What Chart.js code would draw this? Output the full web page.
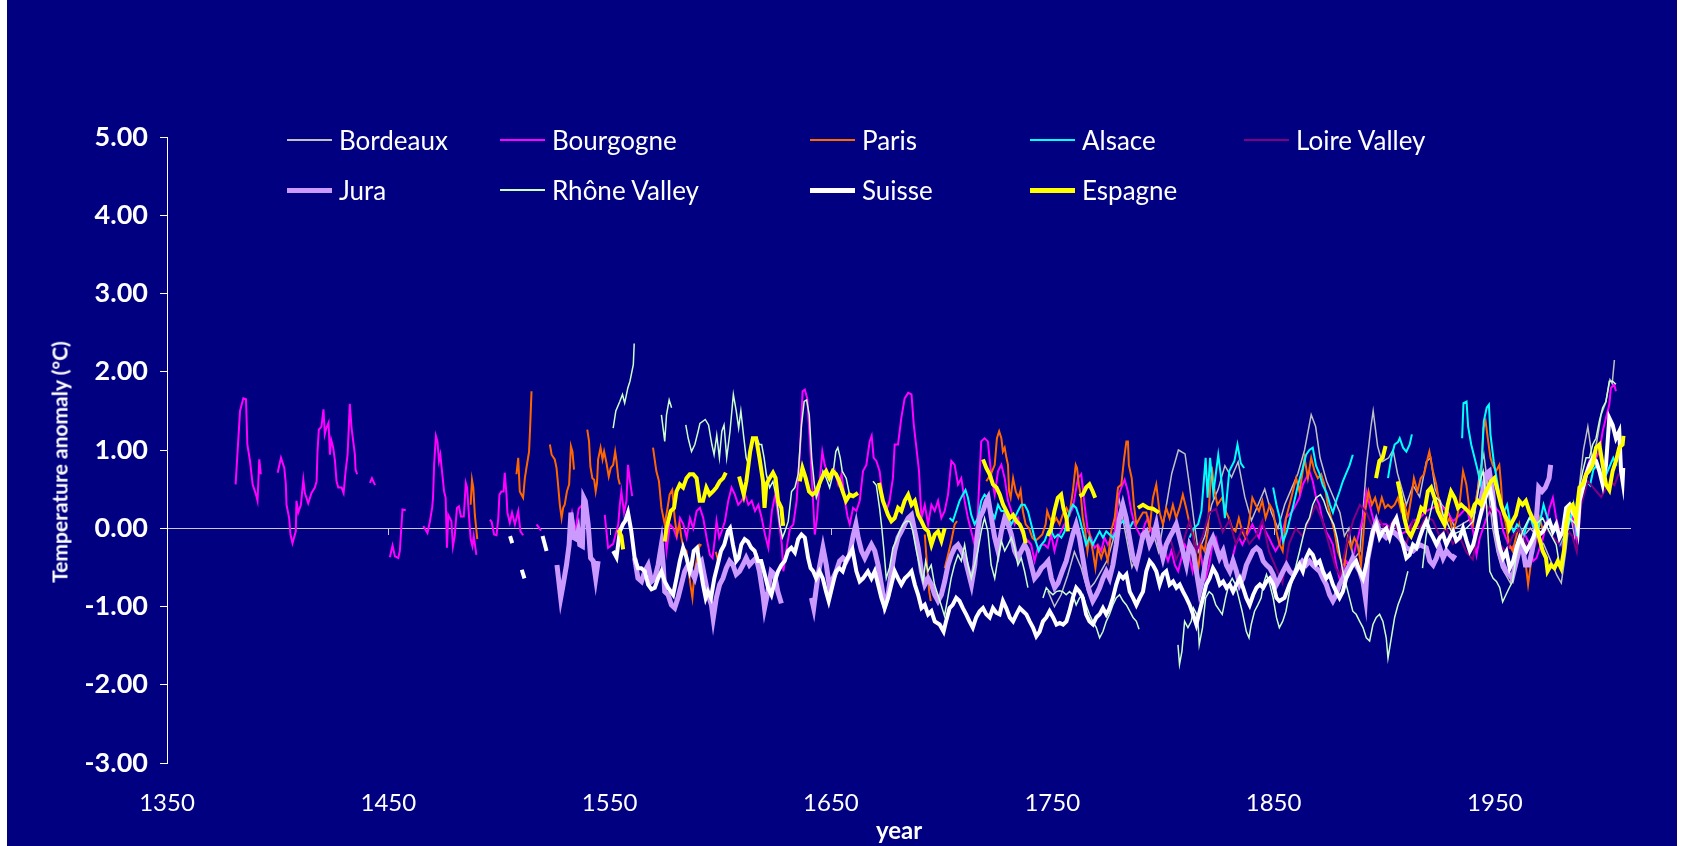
<!DOCTYPE html>
<html>
<head>
<meta charset="utf-8">
<script src="https://cdn.jsdelivr.net/npm/chart.js@4.4.1/dist/chart.umd.min.js"></script>
<style>
  body { margin: 0; background: #ffffff; }
  #wrap { position: relative; width: 1682px; height: 846px; background: #000080; overflow: hidden; font-family: Lato, "Open Sans", sans-serif; color: #fff; }
  #chart { position: absolute; left: 0; top: 0; }
  .edge { position: absolute; top: 0; height: 846px; background: #ffffff; }
  .lg-line { position: absolute; }
  .lg-text { position: absolute; font-size: 26px; line-height: 30px; white-space: nowrap; }
  #ytitle { position: absolute; left: 59px; top: 462px; transform: translate(-50%, -50%) rotate(-90deg); font-weight: bold; font-size: 21px; white-space: nowrap; }
</style>
</head>
<body>
<div id="wrap">
  <canvas id="chart" width="1682" height="846"></canvas>
  <div id="ytitle">Temperature anomaly (°C)</div>
  <div id="legend"></div>
  <div class="edge" style="left:0;width:7px"></div>
  <div class="edge" style="right:0;width:5px"></div>
</div>
<script>
// tick positions on the year axis
const tickYears = [1350, 1450, 1550, 1650, 1750, 1850, 1950];

// series: [year, anomaly], a null anomaly breaks the line
const bordeaux = [
  [1748,-0.8],[1751,-1.0],[1754,-0.85],[1757,-0.6],[1760,-0.3],[1763,-0.5],[1766,-0.8],[1769,-0.7],[1772,-0.55],
  [1775,-0.4],[1778,-0.1],[1780,0.4],[1782,0.1],[1784,-0.2],[1786,-0.5],[1789,-0.3],[1792,-0.1],[1795,0.0],
  [1798,-0.3],[1801,0.2],[1804,0.7],[1807,1.0],[1810,0.95],[1812,0.55],[1814,0.1],[1816,-0.3],[1819,-0.1],
  [1822,0.3],[1825,0.5],[1828,0.8],[1831,0.65],[1834,0.85],[1837,0.4],[1840,0.1],[1843,0.3],[1846,0.5],
  [1849,0.2],[1852,0.0],[1855,0.3],[1858,0.5],[1861,0.7],[1864,1.0],[1867,1.45],[1869,1.3],[1871,0.9],
  [1874,0.6],[1877,0.4],[1880,0.2],[1882,-0.1],[1884,0.0],[1886,-0.4],[1889,-0.3],[1892,0.8],[1894,1.3],
  [1895,1.5],[1897,1.05],[1899,0.85],[1902,0.9],[1904,1.0],[1906,0.7],[1908,0.5],[1910,0.3],[1913,0.55],
  [1916,0.4],[1919,0.85],[1921,0.9],[1923,0.5],[1926,0.3],[1929,0.2],[1932,0.0],[1935,0.05],[1938,0.1],
  [1941,0.2],[1943,0.7],[1945,0.95],[1947,0.5],[1949,0.0],[1951,-0.3],[1953,-0.5],[1955,-0.6],[1957,-0.7],
  [1960,-0.3],[1963,-0.1],[1966,0.0],[1969,-0.1],[1972,-0.2],[1975,-0.4],[1978,-0.6],[1980,-0.7],[1982,-0.3],
  [1984,0.2],[1986,-0.1],[1988,0.5],[1990,1.0],[1992,1.3],[1994,0.9],[1996,1.1],[1998,1.45],[2000,1.6],
  [2002,1.9],[2003,1.85],[2004,2.15]
];

const bourgogne = [
  [1381,0.56],[1383,1.5],[1384.5,1.66],[1385.7,1.65],[1386.3,1.07],[1387.5,0.86],[1388.7,0.56],[1390.2,0.43],
  [1390.9,0.35],[1391.7,0.88],[1392.4,0.69],[1396,null],
  [1400,0.71],[1401.5,0.9],[1403,0.77],[1403.7,0.56],[1404,0.3],[1405.2,0.13],[1405.8,-0.08],[1406.7,-0.19],
  [1408.2,-0.04],[1408.5,0.35],[1409.3,0.2],[1410.5,0.3],[1411.6,0.62],[1412.3,0.45],[1413.8,0.32],[1415.3,0.45],
  [1416.8,0.52],[1417.6,0.6],[1418,0.98],[1418.6,1.26],[1419.8,1.3],[1420.7,1.52],[1421.3,1.2],[1422,1.28],
  [1423,1.35],[1423.6,0.94],[1424.2,1.13],[1425.1,1.03],[1425.9,0.86],[1426.6,0.6],[1427.4,0.52],[1428.9,0.52],
  [1429.8,0.45],[1430.7,0.73],[1431.6,0.94],[1432.6,1.59],[1433.4,1.28],[1434.9,0.94],[1435.2,0.75],[1435.9,0.69],[1438,null],
  [1441.7,0.58],[1442.6,0.64],[1444,0.55],[1447,null],
  [1450.7,-0.37],[1451.9,-0.22],[1453,-0.36],[1454.5,-0.38],[1455.2,-0.29],[1456.4,0.24],[1457.9,0.23],[1462,null],
  [1465.8,0.03],[1467.7,-0.06],[1468.8,0.09],[1469.8,0.26],[1470.2,0.39],[1470.7,0.81],[1471.5,1.18],[1472.2,1.11],
  [1472.9,0.86],[1473.5,0.94],[1474.4,0.69],[1475.2,0.47],[1475.9,0.39],[1476.5,-0.25],[1477.1,0.17],[1478.5,0.09],
  [1479.2,-0.23],[1480,-0.1],[1481,0.26],[1481.9,0.28],[1482.8,0.15],[1484.1,0.15],[1485,0.58],[1485.6,0.52],
  [1486.2,0.26],[1487.2,-0.14],[1488,-0.23],[1488.6,-0.1],[1489.8,-0.34],[1493,null],
  [1495.9,0.11],[1496.7,0.08],[1497.8,-0.08],[1498.9,-0.09],[1499.7,0.13],[1500.2,0.43],[1501.1,0.47],[1502.1,0.47],
  [1502.6,0.71],[1503.4,0.43],[1503.8,0.2],[1504.9,0.07],[1505.9,0.2],[1507.2,0.05],[1508.7,0.22],[1509.7,-0.04],
  [1510.9,-0.09],[1514,null],
  [1517,0.05],[1519,-0.03],[1525,null],
  [1532,0.05],[1533,0.2],[1534.5,-0.05],[1536,0.25],[1537.7,0.3],[1540,null],
  [1547.8,0.17],[1549.3,-0.25],[1551.6,-0.2],[1553.9,0.05],[1554.6,0.3],[1555.3,0.47],[1556.5,0.2],[1557.6,0.35],
  [1558.3,0.81],[1559.2,0.6],[1560.2,0.41],[1566,null],
  [1574.9,0.0],[1575.7,-0.29],[1577.2,0.05],[1578.8,0.0],[1580.3,-0.12],[1581.8,0.13],[1583.3,0.05],[1584.8,-0.12],
  [1586.3,0.13],[1587.8,0.0],[1589.3,0.22],[1590.8,0.26],[1592.3,0.13],[1593.8,-0.12],[1595.3,-0.34],[1596.5,-0.38],
  [1597.6,-0.12],[1598.3,0.09],[1599.5,-0.12],[1600.6,-0.04],[1602.1,0.09],[1603.6,0.35],[1605.1,0.52],[1606.6,0.43],
  [1608.1,0.3],[1609.6,0.35],[1611.2,0.43],[1612.7,0.3],[1614.2,0.35],[1615.7,0.22],[1617.2,0.3],[1618.7,0.13],
  [1620.2,-0.08],[1621.7,-0.25],[1623.3,0.22],[1624.8,0.43],[1626.3,0.13],[1627.8,-0.21],[1628.5,-0.55],[1630,-0.25],
  [1631.5,0.0],[1633,0.05],[1634.5,0.35],[1636,0.98],[1637.2,1.75],[1638.2,1.77],[1639.3,1.66],[1640.5,1.11],
  [1641.7,0.47],[1642.7,-0.08],[1643.7,0.13],[1644.9,0.6],[1646.1,0.98],[1647.2,0.81],[1648.7,0.69],[1650.2,0.64],
  [1651.8,0.73],[1653.3,0.56],[1654.8,0.69],[1656.3,0.35],[1657.5,0.15],[1658.5,0.05],[1660,0.26],[1661.5,0.22],
  [1663,0.35],[1664.5,0.73],[1666,0.81],[1667.5,1.11],[1668.4,1.18],[1669.3,0.9],[1670.5,0.86],[1672,0.73],
  [1673.5,0.35],[1675,0.22],[1676.5,0.35],[1678,0.64],[1678.8,1.07],[1680.3,1.07],[1681.8,1.41],[1683.3,1.66],
  [1684.9,1.73],[1686.4,1.71],[1687.4,1.33],[1688.6,1.03],[1689.8,0.73],[1690.9,0.13],[1692.4,0.3],[1693.9,0.05],
  [1695.4,0.3],[1696.9,0.22],[1698.4,0.35],[1699.9,0.13],[1701.4,0.22],[1702.9,0.43],[1704.4,0.86],[1705.9,0.81],
  [1707.4,0.56],[1708.9,0.64],[1710.4,0.35],[1711.9,0.13],[1713.4,-0.04],[1714.9,-0.21],[1716.4,0.22],[1717.9,1.11],
  [1719.4,1.15],[1720.9,1.11],[1722.4,0.69],[1724,0.43],[1725.5,0.73],[1727,0.81],[1728.5,0.64],[1730,0.35],
  [1731.5,0.22],[1733,0.05],[1734.5,0.13],[1736,-0.04],[1737.5,-0.12],[1739,-0.16],[1740.5,-0.21],[1742,-0.42],
  [1743.5,-0.25],[1745,-0.21],[1746.5,-0.21],[1748,-0.25],[1749.5,-0.08],[1751,-0.29],[1752.5,-0.12],[1754,-0.04],
  [1755.5,0.05],[1757,0.13],[1759.3,0.26],[1761.6,0.64],[1763.1,0.69],[1764.6,0.3],[1766.1,-0.04],[1767.6,-0.12],
  [1769.1,-0.25],[1770.6,-0.21],[1772.1,-0.29],[1773.6,-0.12],[1775.1,-0.21],[1776.7,-0.12],[1778.2,-0.04],[1779.7,0.39],
  [1781.2,0.52],[1782.7,0.62],[1784.2,0.47],[1785.7,0.22],[1787.2,0.05],[1788.8,-0.04],[1790.3,-0.12],[1791.8,0.05],
  [1793.3,0.13],[1794.8,-0.04],[1796.3,-0.12],[1797.8,-0.04],[1799.3,-0.21],[1800.8,-0.29],[1802.3,-0.42],[1803.8,-0.29],
  [1805.4,-0.47],[1806.9,-0.55],[1808.4,-0.38],[1809.9,-0.21],[1811.4,-0.29],[1812.4,-0.42],[1813.4,-0.55],[1814.9,-0.29],
  [1816.4,-0.21],[1817.9,-0.47],[1819.4,-0.64],[1820.9,-0.47],[1822.4,-0.21],[1823.9,-0.12],[1825.4,-0.29],[1826.9,-0.38],
  [1828.4,-0.47],[1829.9,-0.55],[1831.4,-0.38],[1832.9,-0.21],[1834.4,-0.12],[1835.9,-0.21],[1837.4,-0.12],[1838.9,-0.04],
  [1840.4,0.05],[1841.9,-0.04],[1843.4,-0.12],[1844.9,0.05],[1846.4,-0.04],[1847.9,-0.12],[1849.4,-0.21],[1850.9,-0.29],
  [1852.6,-0.21],[1855.6,0.13],[1858.6,0.22],[1861.7,0.39],[1863.2,0.56],[1864.7,0.64],[1866.2,0.73],[1867.7,0.6],
  [1869.2,0.39],[1870.7,0.3],[1872.2,0.09],[1873.7,-0.04],[1875.3,-0.12],[1876.8,-0.21],[1878.3,-0.47],[1879.8,-0.64],
  [1881.3,-0.55],[1882.8,-0.42],[1884.3,-0.47],[1885.8,-0.38],[1887.3,-0.21],[1888.8,-0.04],[1890.4,0.13],[1891.9,0.47],
  [1893.4,0.3],[1894.9,0.13],[1896.4,-0.04],[1897.9,0.05],[1900.9,0.05],[1904,-0.04],[1907,-0.08],[1910,-0.04],
  [1913,0.09],[1916,0.13],[1919,0.22],[1922,0.26],[1925.1,0.3],[1928.1,0.22],[1931.1,0.09],[1934.1,0.17],
  [1937.1,0.26],[1940.2,-0.04],[1941.7,-0.34],[1943.2,-0.12],[1946.2,0.13],[1949.2,0.3],[1952.2,0.2],[1953.8,-0.04],
  [1956.8,-0.25],[1959.8,-0.21],[1962.8,-0.04],[1965.8,-0.21],[1967.3,-0.42],[1968.8,-0.38],[1971.8,-0.12],[1974.7,0.26],
  [1976.2,0.39],[1977.7,0.13],[1979.2,-0.04],[1980.7,-0.25],[1982.2,0.13],[1983.7,0.22],[1985.2,0.13],[1986.7,-0.12],
  [1988.2,0.52],[1989.7,0.6],[1991.2,0.73],[1992.7,0.86],[1994.2,0.81],[1995.7,0.9],[1997.2,0.98],[1998.7,1.24],
  [2000.2,1.41],[2001.7,1.58],[2002.4,1.79],[2003.9,1.84],[2004.7,1.75]
];

const paris = [
  [1487.2,0.3],[1487.8,0.62],[1488.4,0.52],[1489.1,0.17],[1490.2,-0.14],[1495,null],
  [1507.9,0.69],[1508.7,0.9],[1509.4,0.47],[1510.9,0.39],[1511.7,0.64],[1512.4,0.77],[1513.6,0.98],[1514.2,1.37],[1514.7,1.75],[1518,null],
  [1523,1.07],[1523.8,0.94],[1525.2,0.88],[1526,0.77],[1526.7,0.56],[1527.5,0.3],[1528.3,0.13],[1529,0.26],
  [1529.7,0.3],[1530.7,0.47],[1531.7,0.56],[1532.5,1.05],[1533.2,0.98],[1533.9,0.75],[1536,null],
  [1539.9,1.26],[1540.7,1.11],[1541.3,0.79],[1542.2,0.64],[1543,0.62],[1543.7,0.47],[1544.3,0.58],[1544.8,0.88],
  [1545.9,1.03],[1546.8,0.88],[1547.5,0.98],[1548.6,0.83],[1549.6,0.66],[1550.5,0.77],[1551.6,0.81],[1552.5,0.98],
  [1553.1,0.86],[1553.9,0.64],[1554.6,0.56],[1560,null],
  [1569.6,1.03],[1571.1,0.73],[1572.3,0.6],[1573.4,0.26],[1574.9,0.05],[1576.4,0.3],[1577.1,0.43],[1578.3,0.49],
  [1579.4,0.13],[1580.4,-0.08],[1581.6,0.05],[1582.4,-0.12],[1583.4,-0.25],[1584.7,-0.29],[1585.4,-0.47],[1586.5,-0.72],
  [1587.4,-0.89],[1588.4,-0.55],[1589.5,-0.38],[1590.7,-0.21],[1591.5,-0.22],[1594,null],
  [1598,-0.3],[1599,-0.42],[1600,-0.3],[1603,null],
  [1692.4,-0.08],[1693.4,-0.47],[1694.4,-0.81],[1695.1,-0.93],[1698,null],
  [1701.4,-0.51],[1702.9,-0.34],[1704.4,-0.16],[1705.9,0.05],[1707,0.09],[1712,null],
  [1720.2,0.6],[1722.4,0.7],[1724,0.81],[1725,1.15],[1726,1.24],[1727,1.15],[1727.7,0.98],[1728.5,1.03],
  [1729.3,0.9],[1730,0.81],[1730.5,0.47],[1731.2,0.39],[1732.3,0.64],[1733.5,0.47],[1734.7,0.39],[1735.7,0.49],
  [1736.7,0.22],[1738,0.05],[1739.5,0.0],[1741,-0.12],[1742.4,-0.16],[1744,-0.12],[1745.5,-0.08],[1747,0.05],
  [1747.7,0.22],[1748.8,0.13],[1750.3,0.05],[1751.8,0.13],[1753.3,0.05],[1754.8,0.18],[1756.4,0.26],[1757.8,0.18],
  [1759.3,0.47],[1760.6,0.81],[1761.2,0.77],[1762,0.56],[1763,0.39],[1763.8,0.13],[1764.9,-0.04],[1765.9,-0.29],
  [1766.9,-0.08],[1768.3,-0.29],[1769.5,-0.51],[1770.6,-0.25],[1772.1,-0.38],[1773.6,-0.25],[1775.1,-0.42],[1776.6,-0.04],
  [1778.2,0.13],[1779.7,0.52],[1781.2,0.56],[1782.5,0.9],[1783.5,1.11],[1784.2,1.11],[1784.6,0.81],[1785.9,0.64],
  [1786.9,0.3],[1788,0.05],[1789.5,0.13],[1791,0.2],[1792.5,0.2],[1794,0.0],[1795.5,0.39],[1797,0.56],
  [1798.5,0.2],[1800,0.05],[1801.5,0.26],[1803,0.13],[1804.5,0.3],[1806,0.13],[1807.5,0.26],[1809,0.43],
  [1810.5,0.26],[1812.1,0.05],[1813.6,-0.04],[1815.1,-0.38],[1815.8,-0.55],[1817.3,-0.21],[1818.8,-0.29],[1820.3,-0.04],
  [1820.9,0.3],[1821.6,0.64],[1822.3,0.73],[1823.4,0.47],[1824.6,0.3],[1826.8,0.39],[1828.3,0.22],[1829.8,0.13],
  [1831.3,0.0],[1832.8,-0.04],[1834.3,0.13],[1835.8,-0.04],[1837.3,-0.12],[1838.8,0.05],[1840.4,0.39],[1841.9,0.3],
  [1843.4,0.22],[1844.9,0.35],[1846.4,0.13],[1848.3,0.3],[1849.8,0.22],[1851.3,-0.04],[1852.6,-0.2],[1854.1,-0.29],
  [1855.6,0.13],[1857.2,0.3],[1858.7,0.47],[1860.2,0.64],[1861.7,0.47],[1863.2,0.73],[1864,0.9],[1865.5,0.64],
  [1867,0.9],[1868.5,0.73],[1870,0.64],[1871.5,0.69],[1873,0.56],[1874.5,0.3],[1876,0.13],[1877.5,-0.04],
  [1879,-0.29],[1880.5,-0.42],[1882,-0.47],[1883.5,-0.12],[1885,-0.25],[1886.5,-0.12],[1888,-0.21],[1889.5,-0.47],
  [1891.4,0.22],[1892.9,0.47],[1894.4,0.3],[1895.9,0.39],[1897.4,0.22],[1898.9,0.39],[1900.4,0.26],[1901.7,0.3],
  [1903.2,0.26],[1904.7,0.3],[1906.2,0.39],[1907.7,0.22],[1909.2,0.3],[1910.7,0.13],[1912.2,0.39],[1913.4,0.64],
  [1915,0.47],[1916.5,0.64],[1918,0.69],[1919.7,0.9],[1920.4,0.98],[1922,0.73],[1923.5,0.56],[1925,0.3],
  [1926.5,0.13],[1928,0.05],[1929.5,0.13],[1931,-0.04],[1932.5,0.09],[1934,0.3],[1935.6,0.73],[1937.1,0.56],
  [1938.6,0.22],[1940.1,0.05],[1941.6,0.39],[1943.1,0.6],[1944,0.81],[1944.8,1.28],[1945.8,1.37],[1946.8,1.15],
  [1948,0.9],[1949,0.81],[1950.5,0.73],[1952,0.81],[1952.8,0.56],[1953.5,0.22],[1955,0.05],[1956.5,-0.21],
  [1958,-0.29],[1959.5,-0.12],[1961,0.05],[1962.5,-0.21],[1964,-0.47],[1965,-0.72],[1965.8,-0.55],[1967.3,-0.21],
  [1968.8,-0.04],[1970.3,0.13],[1971.8,-0.04]
];

const alsace = [
  [1703.6,0.13],[1705.1,0.09],[1706.6,0.22],[1708.1,0.35],[1709.6,0.43],[1710.8,0.49],[1711.9,0.39],[1713.4,0.17],
  [1714.9,0.05],[1716.4,0.13],[1717.9,0.35],[1719.4,0.43],[1720.9,0.39],[1722.4,0.22],[1724,0.13],[1725.5,0.3],
  [1727,0.22],[1728.5,0.22],[1730,0.13],[1731.5,0.05],[1733,0.13],[1734.5,0.22],[1736,0.3],[1737.5,0.3],
  [1739,0.22],[1740.5,0.05],[1742,-0.12],[1743.9,-0.29],[1745.1,-0.21],[1746.6,-0.16],[1748.1,-0.04],[1749.6,-0.04],
  [1751.1,-0.12],[1752.6,-0.08],[1754.1,-0.12],[1755.6,-0.04],[1757,0.13],[1758,0.22],[1759.3,0.3],[1760.8,0.26],
  [1762.3,0.13],[1763.8,-0.04],[1765.3,-0.21],[1766.8,-0.12],[1768.3,-0.21],[1769.9,-0.12],[1771.4,-0.04],[1772.9,-0.12],
  [1774.4,-0.04],[1775.9,-0.08],[1777.4,-0.12],[1778.9,-0.04],[1780.4,0.05],[1782,0.09],[1783.5,0.05],[1785,0.0],
  [1786.5,0.09],[1789,null],
  [1812,-0.12],[1814,0.0],[1815.9,0.05],[1817.4,0.22],[1819.3,0.9],[1820.2,0.39],[1821.3,0.9],[1822.8,0.45],
  [1825,0.94],[1826.5,0.6],[1828,0.13],[1830,0.73],[1832.3,0.86],[1833.7,1.07],[1835.2,0.83],[1836.7,0.77],[1838,null],
  [1849.8,0.52],[1851.3,0.3],[1852.8,0.13],[1854.3,-0.17],[1856,-0.04],[1857.5,0.13],[1859,0.3],[1861,0.55],
  [1863,0.75],[1864.7,0.94],[1866.2,1.0],[1867.7,1.03],[1869.2,0.8],[1870.7,0.7],[1872.2,0.55],[1874,0.45],
  [1875.5,0.3],[1876.8,0.2],[1878.3,0.35],[1879.8,0.47],[1881.3,0.6],[1882.8,0.7],[1884.3,0.8],[1885.8,0.94],[1887,null],
  [1901.7,0.64],[1903.2,0.9],[1904.7,1.07],[1906.2,1.1],[1907,1.15],[1908.5,1.03],[1910,0.98],[1911.5,1.07],[1912.5,1.2],[1914,null],
  [1935.2,1.15],[1935.8,1.6],[1937.2,1.62],[1937.9,1.3],[1939.3,1.07],[1940.8,0.9],[1942.3,0.73],[1943.6,0.56],
  [1944.5,1.1],[1945,1.37],[1946.3,1.54],[1947.3,1.58],[1948,1.2],[1949.5,0.85],[1951,0.6],[1952.5,0.35],
  [1954,0.2],[1955.5,0.3],[1957,0.05],[1958.5,-0.05],[1960,0.05],[1961.5,0.0],[1963,-0.1],[1964.5,0.05],
  [1966,0.15],[1967.5,0.0],[1969,-0.1],[1970.5,0.1],[1972,0.3],[1973.5,0.15],[1975,0.05],[1976.5,-0.05],
  [1978,0.0],[1979.5,-0.2],[1981,-0.1],[1982.5,0.0],[1984,0.1],[1985.5,0.3],[1987,-0.1],[1988.5,0.35],
  [1990,0.5],[1991.5,0.6],[1993,0.55],[1994.5,0.75],[1996,0.8],[1997.5,0.75],[1999,0.6],[2000.5,0.7],
  [2002,0.8],[2003.5,0.9],[2005,0.8]
];

const loire = [
  [1800,-0.3],[1803,-0.1],[1806,-0.4],[1809,-0.2],[1812,0.1],[1815,-0.3],[1818,-0.1],[1821,0.2],[1824,0.25],
  [1827,-0.05],[1830,0.1],[1833,-0.2],[1836,0.0],[1839,-0.2],[1842,-0.1],[1845,0.1],[1848,-0.3],[1851,-0.5],
  [1854,-0.7],[1857,-0.2],[1860,0.0],[1863,-0.1],[1866,0.1],[1869,0.3],[1872,0.1],[1875,-0.2],[1878,-0.5],
  [1880,-0.6],[1883,-0.2],[1886,0.1],[1889,0.3],[1892,0.2],[1895,0.0],[1898,0.1],[1901,-0.05],[1904,0.1],
  [1907,-0.1],[1910,-0.2],[1913,0.1],[1916,0.0],[1919,0.15],[1922,0.1],[1925,-0.1],[1928,0.0],[1931,-0.2],
  [1934,-0.1],[1937,-0.3],[1940,-0.4],[1943,0.1],[1946,0.3],[1949,0.2],[1952,-0.2],[1955,-0.3],[1958,-0.1],
  [1961,0.0],[1964,-0.2],[1967,-0.3],[1970,-0.1],[1973,0.0],[1976,-0.1],[1979,-0.2],[1982,0.0],[1985,-0.1],
  [1987,-0.3],[1989,0.3],[1992,0.6],[1995,0.5],[1998,0.4],[2000,0.5],[2002,0.6],[2004,0.55],[2006,0.7]
];

const jura = [
  [1526.2,-0.47],[1527.9,-0.89],[1529,-0.72],[1530.5,-0.47],[1531.7,-0.21],[1532.5,0.2],[1533.2,0.05],[1533.8,-0.12],
  [1535,-0.14],[1535.8,-0.04],[1536.5,-0.21],[1537.7,-0.23],[1538.3,0.39],[1539,0.35],[1540.3,0.05],[1541.4,-0.38],
  [1542.6,-0.42],[1543.7,-0.64],[1544.8,-0.42],[1548,null],
  [1561.3,-0.38],[1562.8,-0.64],[1564.4,-0.68],[1565.9,-0.55],[1567.4,-0.47],[1568.9,-0.68],[1570.4,-0.64],[1571.9,-0.47],
  [1573.4,-0.21],[1574.2,-0.47],[1574.9,-0.81],[1576.4,-0.85],[1577.9,-0.98],[1579.4,-1.02],[1580.9,-0.89],[1582.4,-0.72],
  [1583.9,-0.55],[1585.4,-0.47],[1586.9,-0.55],[1588.4,-0.64],[1590,-0.47],[1591.5,-0.42],[1593,-0.64],[1594.5,-0.85],
  [1596,-0.98],[1596.8,-1.15],[1598.2,-0.89],[1599.7,-0.72],[1601.2,-0.64],[1602.7,-0.51],[1604.2,-0.42],[1605.7,-0.47],
  [1607.2,-0.59],[1608.7,-0.55],[1610.2,-0.47],[1611.7,-0.38],[1613.2,-0.47],[1614.7,-0.42],[1616.2,-0.38],[1617.7,-0.55],
  [1619.3,-0.85],[1620,-1.02],[1621.5,-0.81],[1623,-0.55],[1624.5,-0.59],[1626,-0.81],[1627.6,-0.96],[1632,null],
  [1641.2,-0.89],[1642.2,-1.02],[1644.2,-0.59],[1646.4,-0.25],[1647.9,-0.47],[1649.4,-0.76],[1650.9,-0.64],[1652.4,-0.55],
  [1653.9,-0.42],[1655.4,-0.38],[1656.9,-0.42],[1658.4,-0.34],[1660,-0.1],[1661.3,0.05],[1662.3,-0.12],[1663.8,-0.29],
  [1665.3,-0.38],[1666.8,-0.29],[1668.3,-0.21],[1669.8,-0.29],[1671.3,-0.47],[1672.8,-0.72],[1674.3,-0.98],[1675.8,-0.85],
  [1677.3,-0.55],[1678.8,-0.29],[1680.3,-0.12],[1681.8,-0.04],[1683.3,0.05],[1684.9,0.13],[1686.4,0.17],[1687.9,-0.04],
  [1689.4,-0.25],[1690.9,-0.55],[1692.4,-0.72],[1693.9,-0.64],[1695.4,-0.72],[1696.9,-0.85],[1698.4,-0.93],[1699.9,-0.85],
  [1701.4,-0.68],[1702.9,-0.47],[1704.4,-0.34],[1705.9,-0.25],[1707.4,-0.21],[1709,-0.29],[1710.5,-0.38],[1712,-0.55],
  [1713.5,-0.72],[1715,-0.47],[1716,-0.12],[1717.2,0.13],[1718.7,0.22],[1720.2,0.35],[1721,0.39],[1722.5,0.13],
  [1724,-0.12],[1725.5,-0.29],[1727,-0.04],[1728.5,0.13],[1730,0.05],[1731.5,-0.08],[1733,-0.29],[1734.5,-0.38],
  [1736,-0.29],[1737.5,-0.21],[1739,-0.29],[1740.5,-0.47],[1742,-0.64],[1743.5,-0.59],[1745.1,-0.51],[1746.6,-0.47],
  [1748.1,-0.42],[1749.6,-0.64],[1751.1,-0.76],[1752.6,-0.7],[1754.5,-0.55],[1756.3,-0.42],[1757.8,-0.25],[1759.3,-0.08],
  [1760.8,0.05],[1762.3,-0.12],[1763.8,-0.38],[1765.3,-0.64],[1766.8,-0.81],[1768.3,-0.93],[1769.9,-0.85],[1771.4,-0.76],
  [1772.9,-0.64],[1774.4,-0.55],[1775.9,-0.64],[1777.4,-0.47],[1778.9,-0.21],[1780.4,0.13],[1781.9,0.3],[1783.4,0.13],
  [1784.9,-0.12],[1786.5,-0.38],[1788,-0.47],[1789.5,-0.29],[1791,-0.08],[1792.5,-0.04],[1794,-0.21],[1795.5,-0.12],
  [1797,0.05],[1798.5,-0.21],[1800,-0.38],[1801.5,-0.21],[1803,-0.12],[1804.5,-0.04],[1806,0.05],[1807.5,-0.12],
  [1809,-0.29],[1810.6,-0.47],[1812.1,-0.21],[1813.6,-0.29],[1815.1,-0.55],[1816.6,-0.81],[1818.1,-0.64],[1819.6,-0.38],
  [1821.1,-0.21],[1822.6,-0.12],[1824.1,-0.25],[1825.6,-0.38],[1827.2,-0.29],[1828.7,-0.47],[1830.2,-0.55],[1831.7,-0.42],
  [1833.2,-0.55],[1834.7,-0.72],[1836.2,-0.64],[1837.7,-0.47],[1839.2,-0.38],[1840.7,-0.29],[1842.3,-0.25],[1843.8,-0.29],
  [1845.3,-0.42],[1846.8,-0.47],[1848.3,-0.51],[1849.8,-0.59],[1851.3,-0.72],[1852.8,-0.64],[1854.3,-0.55],[1855.8,-0.47],
  [1857.3,-0.55],[1859,-0.6],[1861,-0.5],[1863,-0.42],[1864.7,-0.47],[1866.2,-0.42],[1867.7,-0.47],[1869.2,-0.51],
  [1870.8,-0.55],[1872.3,-0.64],[1873.8,-0.72],[1875.3,-0.85],[1876.8,-0.93],[1878.3,-0.85],[1879.8,-0.72],[1881.3,-0.64],
  [1882.8,-0.55],[1884.3,-0.47],[1885.8,-0.38],[1887.3,-0.47],[1888.9,-0.55],[1890.4,-0.68],[1891.5,-0.89],[1892.5,-0.4],
  [1894.9,-0.04],[1896.4,0.09],[1897.9,-0.04],[1900.9,-0.12],[1904,-0.04],[1907,-0.12],[1910,-0.25],[1913,-0.29],
  [1916,-0.21],[1919,-0.25],[1920.6,-0.42],[1922.1,-0.47],[1923.6,-0.38],[1925.1,-0.25],[1926.6,-0.38],[1928.1,-0.29],
  [1929.6,-0.34],[1931.1,-0.38],[1932,-0.34],[1936,null],
  [1943.2,0.3],[1944.7,0.5],[1946.2,0.7],[1947.5,0.73],[1949,0.45],[1950.6,-0.04],[1952,-0.3],[1953.5,-0.45],
  [1955,-0.55],[1956.7,-0.6],[1957.8,-0.64],[1959.3,-0.47],[1960.8,-0.3],[1962.3,-0.21],[1963.8,-0.47],[1965.3,-0.47],
  [1966.8,-0.29],[1968.3,-0.04],[1969.8,0.52],[1971.3,0.47],[1972.8,0.52],[1974.5,0.64],[1975.2,0.81]
];

const rhone = [
  [1551.6,1.28],[1552.8,1.5],[1554.6,1.62],[1555.8,1.71],[1556.8,1.6],[1558.2,1.79],[1559.2,1.88],[1560.7,2.09],[1561.1,2.36],[1565,null],
  [1573.4,1.45],[1574.9,1.11],[1575.7,1.45],[1576.9,1.64],[1578,1.54],[1581,null],
  [1584.4,1.32],[1585.5,1.15],[1587,0.98],[1588.5,1.07],[1590,1.24],[1590.8,1.34],[1593.2,1.39],[1594.7,1.32],
  [1596.2,1.07],[1597.2,0.94],[1598.4,1.19],[1599.6,0.9],[1600.7,1.24],[1601.7,1.32],[1602.9,0.9],[1604.4,1.24],
  [1605.9,1.71],[1607.2,1.5],[1608.3,1.28],[1609.3,1.5],[1610.5,1.19],[1611.7,0.9],[1612.8,0.81],[1613.9,1.03],
  [1615,1.15],[1616.5,1.15],[1617.7,1.07],[1618.7,1.07],[1619.8,0.9],[1620.8,0.69],[1622.3,0.52],[1623.8,0.6],
  [1625.4,0.39],[1626.9,0.05],[1628.1,-0.12],[1629.2,-0.04],[1630.7,0.09],[1632.2,0.47],[1633.7,0.52],[1635.2,0.69],
  [1636.7,1.32],[1637.9,1.62],[1639,1.64],[1640.2,1.45],[1641.3,0.9],[1642.5,0.56],[1643.4,0.39],[1644.9,0.52],
  [1646.4,0.73],[1647.9,0.64],[1649.4,0.52],[1650.9,0.69],[1652.2,0.98],[1653.1,1.03],[1654.2,0.9],[1655.1,0.73],
  [1656.9,0.64],[1658.4,0.43],[1662,null],
  [1669,0.6],[1670.5,0.55],[1672,0.25],[1673,0.0],[1674,-0.3],[1675,-0.64],[1676.5,-0.5],[1678,-0.25],
  [1679.5,-0.16],[1681,-0.04],[1682.6,0.05],[1684,0.09],[1685.6,0.09],[1687,-0.04],[1688.6,-0.29],[1690,-0.47],
  [1691.6,-0.68],[1692.8,-0.42],[1693.8,-0.55],[1695.3,-0.47],[1696.8,-0.72],[1698.3,-0.85],[1699.8,-0.98],[1701.3,-1.12],
  [1702.8,-0.89],[1704.3,-0.64],[1705.8,-0.47],[1707.4,-0.34],[1708.9,-0.42],[1710.4,-0.21],[1711.9,-0.47],[1713.4,-0.64],
  [1714.9,-0.47],[1716.4,-0.29],[1717.9,-0.04],[1719.4,0.13],[1720.9,-0.04],[1722.4,-0.47],[1724,-0.64],[1725.5,-0.38],
  [1727,-0.16],[1728.5,-0.29],[1730,-0.21],[1731.5,-0.12],[1733,-0.25],[1734.5,-0.47],[1736,-0.38],[1737.5,-0.55],
  [1739,-0.76],[1742,null],
  [1745.8,-0.89],[1747.3,-0.76],[1748.8,-0.81],[1750.3,-0.85],[1751.8,-0.81],[1753.3,-0.8],[1754.8,-0.81],[1756.3,-0.85],
  [1757.8,-0.81],[1759.3,-0.85],[1760.8,-0.98],[1762.3,-0.89],[1763.8,-0.85],[1765.3,-0.98],[1766.8,-1.1],[1768.3,-1.19],
  [1769.9,-1.27],[1771.4,-1.4],[1772.9,-1.32],[1774.4,-1.19],[1775.9,-1.1],[1777.4,-0.98],[1778.9,-0.89],[1780.4,-0.85],
  [1782,-0.93],[1783.5,-0.98],[1785,-1.06],[1786.5,-1.14],[1788,-1.19],[1789.2,-1.29],[1793,null],
  [1806.8,-1.49],[1807.5,-1.74],[1808.6,-1.57],[1809.8,-1.19],[1811.3,-1.27],[1812.8,-1.19],[1813.8,-1.02],[1815.3,-1.1],
  [1816,-1.27],[1816.4,-1.49],[1817.9,-1.27],[1818.5,-1.1],[1819.3,-0.89],[1820.9,-0.81],[1822.4,-0.85],[1823.9,-0.98],
  [1826.8,-1.1],[1828.3,-0.89],[1829.8,-0.72],[1831.3,-0.64],[1832.8,-0.72],[1834.3,-0.89],[1835.8,-1.06],[1837.7,-1.32],
  [1838.9,-1.4],[1839.9,-1.23],[1841.4,-1.06],[1842.9,-0.98],[1844.4,-0.89],[1845.3,-0.72],[1846.8,-0.59],[1848.3,-0.72],
  [1849.8,-0.89],[1851.3,-1.14],[1852.6,-1.27],[1854.1,-1.19],[1855.6,-1.06],[1857.2,-0.81],[1858.7,-0.64],[1860.2,-0.47],
  [1861.7,-0.3],[1863.2,-0.12],[1864.7,0.05],[1866.2,0.13],[1867.7,0.3],[1869.2,0.39],[1871.2,0.43],[1872.7,0.35],
  [1874.2,0.22],[1875.7,0.13],[1877.2,0.05],[1878.7,-0.12],[1880.2,-0.38],[1881.3,-0.55],[1882.8,-0.72],[1884.3,-0.89],
  [1885.8,-1.06],[1887.3,-1.1],[1888.9,-1.19],[1890.4,-1.27],[1891.9,-1.4],[1893.4,-1.44],[1894.9,-1.23],[1896.4,-1.14],
  [1897.9,-1.1],[1899.4,-1.19],[1900.9,-1.4],[1901.7,-1.66],[1903.2,-1.4],[1904.7,-1.14],[1906.2,-0.98],[1908.5,-0.81],
  [1909.9,-0.64],[1910.7,-0.55],[1914,null],
  [1917.3,-0.51],[1918.8,-0.12],[1920.3,0.13],[1922.1,0.35],[1923.6,0.39],[1925.1,0.35],[1926.6,0.17],[1928.1,0.09],
  [1929.6,0.0],[1931.1,-0.08],[1934.1,-0.04],[1937.2,0.0],[1940.2,0.09],[1943.2,0.6],[1944.7,0.73],[1946.2,0.3],
  [1947.7,-0.55],[1949.2,-0.64],[1950.7,-0.68],[1952.2,-0.76],[1953.5,-0.94],[1955,-0.85],[1956.5,-0.76],[1958,-0.68],
  [1959.5,-0.38],[1961,-0.21],[1962.5,-0.04],[1965.5,0.13],[1968.5,0.05],[1971.6,0.13],[1974.5,-0.04],[1977.7,-0.21],
  [1979.2,-0.47],[1980.7,-0.47],[1982.2,-0.12],[1983.7,0.13],[1986.7,0.05],[1988.2,0.52],[1989.7,0.73],[1991.2,0.9],
  [1992.7,0.9],[1994.2,1.07],[1995.7,1.15],[1997.2,1.37],[1998.7,1.54],[2000.2,1.62],[2001.7,1.88],[2003.2,1.88],[2004.7,1.84]
];

const suisse = [
  [1505,-0.1],[1506,-0.19],[1507,null],[1510.3,-0.53],[1511.5,-0.64],[1513,null],[1519.7,-0.1],[1521.5,-0.29],[1523,null],
  [1551.6,-0.29],[1553.1,-0.37],[1554.6,-0.04],[1556,0.05],[1557,0.09],[1558.3,0.2],[1559.8,-0.04],[1561.3,-0.38],
  [1562.8,-0.51],[1564.3,-0.51],[1565.9,-0.55],[1567.4,-0.72],[1568.9,-0.78],[1570.4,-0.76],[1571.9,-0.64],[1573.4,-0.55],
  [1574.9,-0.68],[1576.4,-0.76],[1578.7,-0.85],[1580.2,-0.64],[1581.7,-0.42],[1583.2,-0.25],[1584.7,-0.37],[1586.2,-0.55],
  [1587,-0.47],[1588,-0.29],[1589.5,-0.25],[1590.7,-0.46],[1592.2,-0.72],[1593.4,-0.89],[1594.4,-0.81],[1595.8,-0.89],
  [1597.3,-0.64],[1598.8,-0.47],[1600.3,-0.29],[1601.8,-0.21],[1603.4,-0.04],[1604.4,0.0],[1605.7,-0.21],[1607.2,-0.42],
  [1608.3,-0.38],[1609.5,-0.21],[1611,-0.14],[1612.5,-0.17],[1614,-0.25],[1615.5,-0.29],[1617,-0.42],[1618.5,-0.42],
  [1620.1,-0.59],[1621.6,-0.76],[1623.1,-0.85],[1624.6,-0.68],[1626.1,-0.55],[1627.6,-0.47],[1629.1,-0.42],[1630.6,-0.29],
  [1632.1,-0.25],[1633.7,-0.31],[1635.2,-0.14],[1636.7,-0.08],[1638.2,-0.12],[1639.7,-0.38],[1640.8,-0.51],[1642,-0.55],
  [1643.3,-0.64],[1644.8,-0.55],[1646.3,-0.64],[1647.8,-0.81],[1649,-0.93],[1650.8,-0.72],[1652.3,-0.55],[1653.8,-0.51],
  [1655.3,-0.55],[1656.8,-0.42],[1658.3,-0.34],[1659.7,-0.27],[1661.5,-0.55],[1663,-0.68],[1664.5,-0.64],[1666.7,-0.55],
  [1668.3,-0.64],[1669.8,-0.55],[1671.3,-0.72],[1672.8,-0.89],[1674.3,-1.02],[1675.8,-0.89],[1677.3,-0.72],[1678.8,-0.55],
  [1680.3,-0.64],[1681.8,-0.72],[1683.4,-0.64],[1684.9,-0.6],[1686.4,-0.55],[1687.9,-0.72],[1689.4,-0.85],[1690.9,-1.02],
  [1692.4,-0.98],[1693.9,-1.1],[1695.4,-1.06],[1696.9,-1.19],[1699.1,-1.23],[1700.9,-1.32],[1702,-1.19],[1703.6,-1.02],
  [1705,-0.98],[1706.6,-0.89],[1708.1,-0.93],[1709.6,-1.02],[1711.1,-1.1],[1712.6,-1.19],[1714.1,-1.27],[1715.6,-1.14],
  [1717.2,-1.06],[1718.7,-1.02],[1720.2,-1.1],[1721.7,-1.14],[1723.2,-1.02],[1724.7,-1.08],[1726.2,-1.1],[1727.7,-0.93],
  [1729.2,-1.02],[1730.8,-1.14],[1732.3,-1.19],[1733.8,-1.1],[1735.3,-1.02],[1736.8,-1.06],[1738.3,-1.1],[1739.8,-1.19],
  [1741.3,-1.27],[1742.8,-1.38],[1744.3,-1.32],[1745.8,-1.19],[1747.3,-1.14],[1748.8,-1.06],[1750.4,-1.14],[1751.9,-1.23],
  [1753.4,-1.21],[1754.9,-1.23],[1756.4,-1.19],[1757.8,-1.06],[1759.3,-0.89],[1760.8,-0.76],[1762.3,-0.81],[1763.8,-0.89],
  [1765.3,-1.1],[1766.8,-1.19],[1768.4,-1.23],[1769.9,-1.14],[1771.4,-1.1],[1772.9,-1.02],[1774.4,-1.1],[1775.9,-1.02],
  [1777.4,-0.89],[1778.9,-0.72],[1780.4,-0.59],[1782,-0.64],[1783.5,-0.59],[1785,-0.81],[1786.5,-0.89],[1788,-0.98],
  [1789.5,-0.89],[1791,-0.81],[1792.5,-0.55],[1794,-0.42],[1795.5,-0.47],[1797,-0.55],[1798.5,-0.72],[1800,-0.59],
  [1801.5,-0.55],[1803,-0.72],[1804.6,-0.68],[1806.1,-0.76],[1807.6,-0.72],[1809.1,-0.81],[1810.6,-0.89],[1812.1,-0.98],
  [1813.6,-1.1],[1815.1,-1.23],[1816.6,-1.06],[1818.1,-0.89],[1819.6,-0.72],[1821.1,-0.64],[1822.6,-0.51],[1824.2,-0.59],
  [1825.7,-0.72],[1827.2,-0.68],[1828.7,-0.76],[1830.2,-0.72],[1831.7,-0.81],[1833.2,-0.72],[1834.7,-0.64],[1836.2,-0.76],
  [1837.7,-0.89],[1839.2,-0.98],[1840.8,-0.85],[1842.3,-0.76],[1843.8,-0.72],[1845.3,-0.76],[1846.8,-0.68],[1848.3,-0.64],
  [1849.8,-0.72],[1851.3,-0.89],[1852.6,-0.93],[1854.9,-0.89],[1857.2,-0.72],[1859.4,-0.59],[1861.7,-0.46],[1863.2,-0.55],
  [1864.7,-0.38],[1866.2,-0.29],[1867.7,-0.34],[1869.2,-0.46],[1870.8,-0.42],[1872.3,-0.55],[1873.8,-0.64],[1875.3,-0.59],
  [1876.8,-0.72],[1878.3,-0.81],[1879.8,-0.89],[1881.3,-0.81],[1882.8,-0.64],[1884.3,-0.55],[1885.8,-0.47],[1887.3,-0.42],
  [1888.9,-0.55],[1890.4,-0.64],[1891.9,-0.47],[1893.4,-0.25],[1894.9,-0.04],[1896.4,0.05],[1897.9,-0.12],[1899.4,-0.04],
  [1900.9,0.0],[1902.4,-0.12],[1904,0.05],[1905.5,0.13],[1907,-0.04],[1908.5,-0.21],[1910,-0.38],[1911.5,-0.34],
  [1913,-0.21],[1914.5,-0.25],[1916,-0.12],[1917.5,0.0],[1919,0.09],[1920.6,-0.04],[1922.1,-0.12],[1923.6,-0.21],
  [1925.1,-0.12],[1926.6,-0.08],[1928.1,-0.21],[1929.6,-0.12],[1931.1,-0.04],[1932.6,-0.16],[1934.1,-0.12],[1935.6,0.0],
  [1937.2,-0.16],[1938.7,-0.29],[1940.2,-0.21],[1941.7,-0.04],[1943.2,0.13],[1944.7,0.3],[1946.2,0.43],[1947.7,0.52],
  [1949.2,0.3],[1950.7,-0.04],[1952.2,-0.25],[1953.7,-0.38],[1955.2,-0.3],[1956.7,-0.51],[1958.2,-0.42],[1959.7,-0.25],
  [1961.2,-0.12],[1962.8,-0.21],[1964.3,-0.29],[1965.8,-0.21],[1967.3,-0.12],[1968.8,0.0],[1970.3,-0.08],[1971.8,-0.04],
  [1973.3,0.05],[1974.7,0.09],[1976.2,-0.04],[1977.7,0.05],[1979.2,-0.12],[1980.7,-0.04],[1982.2,0.26],[1983.7,0.3],
  [1985.2,0.2],[1986.7,0.13],[1987.5,0.0],[1988.3,0.35],[1989.8,0.52],[1991.3,0.69],[1992.7,0.81],[1994.2,0.9],
  [1995.7,0.86],[1997.2,0.73],[1998.7,0.56],[2000.2,0.81],[2001.7,1.41],[2003.2,1.32],[2004.7,1.15],[2006.2,1.24],
  [2007,0.73],[2007.7,0.6],[2008,0.77]
];

const espagne = [
  [1553.9,-0.02],[1555.3,-0.1],[1556.1,-0.27],[1558,null],
  [1574.9,-0.17],[1575.7,0.0],[1577.6,0.22],[1579.1,0.26],[1580.2,0.47],[1581.7,0.56],[1583.2,0.52],[1584.7,0.64],
  [1586.2,0.69],[1587.8,0.69],[1589.3,0.64],[1590.7,0.35],[1592.2,0.35],[1593.7,0.52],[1595.2,0.43],[1596.7,0.47],
  [1598.2,0.52],[1599.8,0.6],[1601.3,0.64],[1602.5,0.71],[1605,null],
  [1608.5,0.66],[1610.6,0.43],[1611.8,0.6],[1613.5,0.98],[1614.7,1.15],[1616.2,1.15],[1617.7,0.9],[1619.3,0.6],
  [1620,0.26],[1620.8,0.56],[1622.3,0.64],[1623.8,0.71],[1625,0.64],[1626.1,0.35],[1627.6,0.26],[1628.4,0.03],[1632,null],
  [1635.9,0.6],[1637.1,0.77],[1638.6,0.64],[1640.1,0.47],[1641.6,0.43],[1643.4,0.47],[1645.2,0.6],[1646.7,0.69],
  [1647.8,0.73],[1649.3,0.64],[1650.8,0.73],[1652.3,0.69],[1653.8,0.6],[1655.3,0.47],[1656.8,0.35],[1658.5,0.43],
  [1660,0.41],[1662.2,0.45],[1666,null],
  [1671.7,0.58],[1673.5,0.35],[1675.8,0.17],[1677.3,0.09],[1678.8,0.13],[1680.3,0.26],[1681.8,0.22],[1683.3,0.35],
  [1684.9,0.43],[1686.4,0.3],[1687.9,0.35],[1689.4,0.17],[1690.9,0.09],[1692.4,0.0],[1693.9,-0.04],[1695.4,-0.21],
  [1696.9,-0.08],[1698.4,-0.04],[1699.9,-0.16],[1701.4,0.0],[1705,null],
  [1718.7,0.88],[1720.2,0.77],[1721.7,0.69],[1723.2,0.56],[1724.8,0.52],[1726.3,0.43],[1727.8,0.3],[1729.3,0.22],
  [1730.8,0.13],[1732.3,0.17],[1733.8,0.09],[1735.3,0.05],[1736.8,-0.04],[1738,-0.19],[1742,null],
  [1748,-0.1],[1749.5,0.0],[1751,0.22],[1752.5,0.39],[1754,0.43],[1755,0.26],[1756.4,0.13],[1757.1,-0.04],[1760,null],
  [1762.3,0.41],[1763.8,0.43],[1765.3,0.52],[1766.8,0.56],[1768.3,0.47],[1769.4,0.39],[1772,null],
  [1788.7,0.26],[1791,0.3],[1793.3,0.26],[1795.5,0.25],[1798.2,0.2],[1801,null],
  [1896.3,0.64],[1897.8,0.86],[1899.3,0.9],[1900.6,1.05],[1903,null],
  [1906.1,0.6],[1907.6,0.39],[1909.1,0.13],[1910.6,-0.04],[1912.1,-0.1],[1913.6,0.0],[1915.1,0.09],[1916.7,0.26],
  [1918.2,0.22],[1919.7,0.47],[1921.2,0.52],[1922.7,0.39],[1924.2,0.22],[1925.7,0.13],[1927.2,0.05],[1928.7,0.3],
  [1930.2,0.47],[1931.8,0.39],[1933.3,0.26],[1934.8,0.3],[1936.3,0.26],[1937.8,0.22],[1939.3,0.17],[1940.8,0.3],
  [1942.3,0.35],[1943.8,0.3],[1945.3,0.43],[1946.8,0.52],[1948.3,0.6],[1949.8,0.64],[1951.3,0.47],[1952.8,0.3],
  [1954.4,0.17],[1955.9,0.09],[1956.5,0.0],[1958,0.09],[1959.5,0.17],[1961,0.35],[1962.5,0.3],[1964,0.35],
  [1965.5,0.22],[1967,0.13],[1968.5,0.05],[1970,-0.12],[1971.6,-0.29],[1973.1,-0.38],[1973.8,-0.55],[1975.4,-0.47],
  [1976.9,-0.51],[1978.4,-0.42],[1979.9,-0.51],[1981.4,-0.25],[1982.1,0.05],[1983.6,0.26],[1985.1,0.3],[1986.6,0.13],
  [1988.2,0.52],[1989.7,0.56],[1991.2,0.69],[1992.6,0.73],[1994.2,0.81],[1995.7,1.03],[1997.2,1.07],[1998.7,0.81],
  [2000.2,0.56],[2001.7,0.49],[2003.2,0.73],[2004.7,0.86],[2006.2,1.03],[2007.7,1.07],[2008.1,1.18]
];

const seriesList = [
  { label: "Bordeaux",     data: bordeaux,  color: "#c0c0c0", width: 1.5 },
  { label: "Bourgogne",    data: bourgogne, color: "#ff00ff", width: 2 },
  { label: "Paris",        data: paris,     color: "#ff6600", width: 2 },
  { label: "Alsace",       data: alsace,    color: "#00ffff", width: 2 },
  { label: "Loire Valley", data: loire,     color: "#800080", width: 2 },
  { label: "Jura",         data: jura,      color: "#cc99ff", width: 5 },
  { label: "Rhône Valley", data: rhone,     color: "#ccffcc", width: 1.5 },
  { label: "Suisse",       data: suisse,    color: "#ffffff", width: 4 },
  { label: "Espagne",      data: espagne,   color: "#ffff00", width: 4 }
];

// legend (two rows, like the original)
const legendPos = [
  [287, 140], [500, 140], [810, 140], [1030, 140], [1244, 140],
  [287, 190], [500, 190], [810, 190], [1030, 190]
];
const legend = document.getElementById("legend");
seriesList.forEach((s, i) => {
  const [lx, ly] = legendPos[i];
  const h = s.width >= 4 ? 5 : 2;
  const line = document.createElement("div");
  line.className = "lg-line";
  line.style.left = lx + "px";
  line.style.top = (ly - h / 2) + "px";
  line.style.width = "45px";
  line.style.height = h + "px";
  line.style.background = s.color;
  legend.appendChild(line);
  const txt = document.createElement("div");
  txt.className = "lg-text";
  txt.style.left = (lx + 52) + "px";
  txt.style.top = (ly - 15) + "px";
  txt.textContent = s.label;
  legend.appendChild(txt);
});

// small tick marks on the zero line
const zeroTicks = {
  id: "zeroTicks",
  beforeDatasetsDraw(chart) {
    const { ctx, scales: { x, y } } = chart;
    const y0 = Math.round(y.getPixelForValue(0));
    ctx.save();
    ctx.strokeStyle = "#c8c8d8";
    ctx.lineWidth = 1;
    tickYears.forEach(v => {
      if (v === 1350) return;
      const px = Math.round(x.getPixelForValue(v)) + 0.5;
      ctx.beginPath();
      ctx.moveTo(px, y0);
      ctx.lineTo(px, y0 + 7);
      ctx.stroke();
    });
    ctx.restore();
  }
};

new Chart(document.getElementById("chart"), {
  type: "line",
  data: {
    datasets: seriesList.map((s, i) => ({
      label: s.label,
      data: s.data.map(p => ({ x: p[0], y: p[1] })),
      borderColor: s.color,
      backgroundColor: s.color,
      borderWidth: s.width,
      pointRadius: 0,
      tension: 0,
      spanGaps: false,
      order: seriesList.length - i
    }))
  },
  options: {
    responsive: false,
    animation: false,
    devicePixelRatio: 1,
    layout: { padding: { top: 137, right: 51, left: 0, bottom: 0 } },
    plugins: { legend: { display: false }, tooltip: { enabled: false } },
    scales: {
      x: {
        type: "linear",
        min: 1350,
        max: 2011.5,
        afterBuildTicks: scale => { scale.ticks = tickYears.map(v => ({ value: v })); },
        afterFit: scale => { scale.height = 83; },
        grid: { display: false, drawTicks: false },
        border: { display: false },
        ticks: {
          color: "#ffffff",
          padding: 26,
          maxRotation: 0,
          font: { family: "Lato", size: 24 },
          callback: v => String(v)
        },
        title: {
          display: true,
          text: "year",
          color: "#ffffff",
          padding: 0,
          font: { family: "Lato", size: 24, weight: "bold" }
        }
      },
      y: {
        min: -3,
        max: 5,
        afterFit: scale => { scale.width = 167; },
        grid: {
          color: c => (c.tick && c.tick.value === 0 ? "#c8c8d8" : "rgba(0,0,0,0)"),
          tickColor: "#ffffff",
          tickLength: 7,
          drawTicks: true
        },
        border: { display: true, color: "#ffffff", width: 1 },
        ticks: {
          stepSize: 1,
          color: "#ffffff",
          padding: 12,
          font: { family: "Lato", size: 27, weight: "bold" },
          callback: v => Number(v).toFixed(2)
        }
      }
    }
  },
  plugins: [zeroTicks]
});
</script>
</body>
</html>
